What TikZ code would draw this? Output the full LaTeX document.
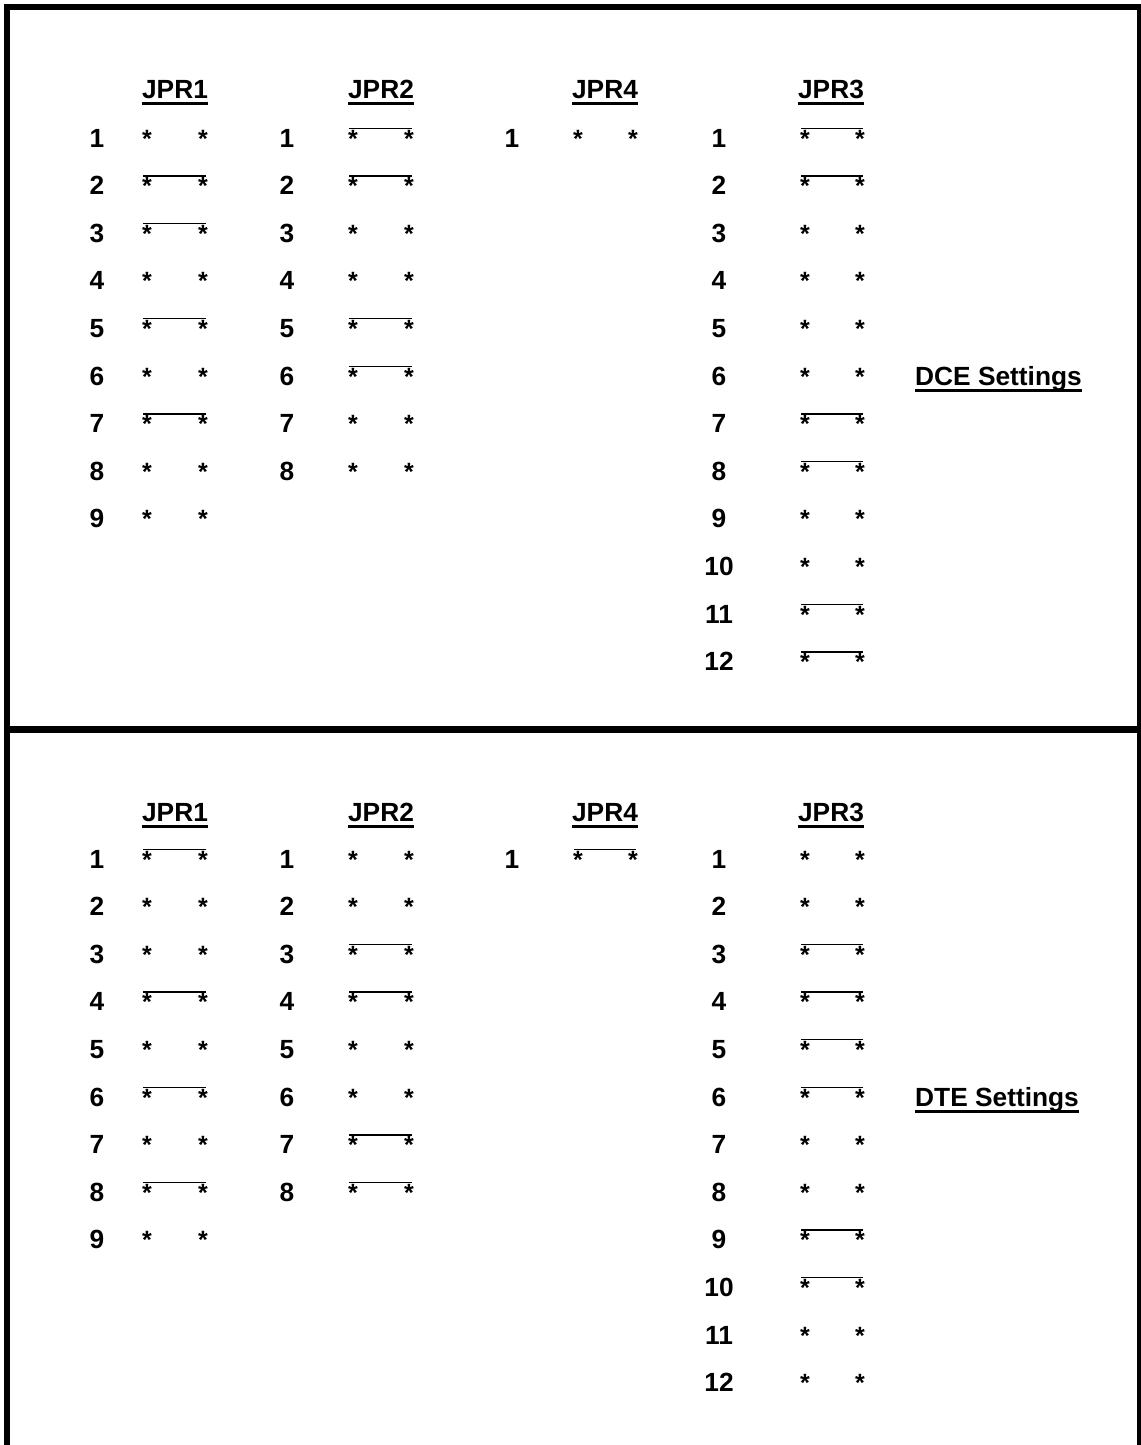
\documentclass[tikz,border=0pt]{standalone}
\usepackage{fontspec}
\setmainfont{Liberation Sans}
\tikzset{
  lbl/.style={inner sep=0pt, anchor=base, font=\fontsize{26.3}{30}\selectfont\bfseries},
  pinstar/.style={inner sep=0pt, anchor=base, font=\fontsize{25}{30}\selectfont\bfseries},
  jumper/.style={line width=1.4pt},
  frameline/.style={line width=6pt, line join=miter},
  uline/.style={line width=2.6pt}
}
% #1 prefix, #2 vertical offset, #3 number x, #4 left pin x, #5 right pin x, #6 list row/jumper
\newcommand\jprcol[6]{%
  \foreach \r/\j in {#6} {
    \pgfmathsetmacro\yy{#2+147+47.6*(\r-1)}
    \node[lbl] (#1n\r) at (#3,\yy) {\r};
    \node[pinstar] (#1a\r) at (#4,\yy) {*};
    \node[pinstar] (#1b\r) at (#5,\yy) {*};
    \ifnum\j=1
      \draw[jumper] ([shift={(-4,-18.8)}]#1a\r.base) -- ([shift={(3,-18.8)}]#1b\r.base);
    \fi
  }%
}
\newcommand\jprhead[4]{% #1 name, #2 x, #3 y, #4 text
  \node[lbl] (#1) at (#2,#3) {#4};
  \draw[uline] ([shift={(0,4.7)}]#1.base west) -- ([shift={(0,4.7)}]#1.base east);
}
\begin{document}
\begin{tikzpicture}[x=1pt,y=-1pt]
  \useasboundingbox (0,0) rectangle (1140,1445);
  % frame
  \draw[frameline] (7,1460) -- (7,7) -- (1140,7) -- (1140,1460);
  \draw[line width=6.5pt] (7,729.5) -- (1140,729.5);

  % ===== DCE (top) =====
  \jprhead{tH1}{175}{99}{JPR1}
  \jprhead{tH2}{381}{99}{JPR2}
  \jprhead{tH4}{605}{99}{JPR4}
  \jprhead{tH3}{831}{99}{JPR3}
  \jprcol{tA}{0}{97}{147}{203}{1/0,2/1,3/1,4/0,5/1,6/0,7/1,8/0,9/0}
  \jprcol{tB}{0}{287}{353}{409}{1/1,2/1,3/0,4/0,5/1,6/1,7/0,8/0}
  \jprcol{tD}{0}{512}{578}{633}{1/0}
  \jprcol{tC}{0}{719}{805}{860}{1/1,2/1,3/0,4/0,5/0,6/0,7/1,8/1,9/0,10/0,11/1,12/1}
  \node[lbl, anchor=base west] (tS) at (915,385.5) {DCE Settings};
  \draw[uline] ([shift={(0,5)}]tS.base west) -- ([shift={(0,5)}]tS.base east);

  % ===== DTE (bottom) =====
  \jprhead{bH1}{175}{821.5}{JPR1}
  \jprhead{bH2}{381}{821.5}{JPR2}
  \jprhead{bH4}{605}{821.5}{JPR4}
  \jprhead{bH3}{831}{821.5}{JPR3}
  \jprcol{bA}{721}{97}{147}{203}{1/1,2/0,3/0,4/1,5/0,6/1,7/0,8/1,9/0}
  \jprcol{bB}{721}{287}{353}{409}{1/0,2/0,3/1,4/1,5/0,6/0,7/1,8/1}
  \jprcol{bD}{721}{512}{578}{633}{1/1}
  \jprcol{bC}{721}{719}{805}{860}{1/0,2/0,3/1,4/1,5/1,6/1,7/0,8/0,9/1,10/1,11/0,12/0}
  \node[lbl, anchor=base west] (bS) at (915,1106.5) {DTE Settings};
  \draw[uline] ([shift={(0,5)}]bS.base west) -- ([shift={(0,5)}]bS.base east);
\end{tikzpicture}
\end{document}
